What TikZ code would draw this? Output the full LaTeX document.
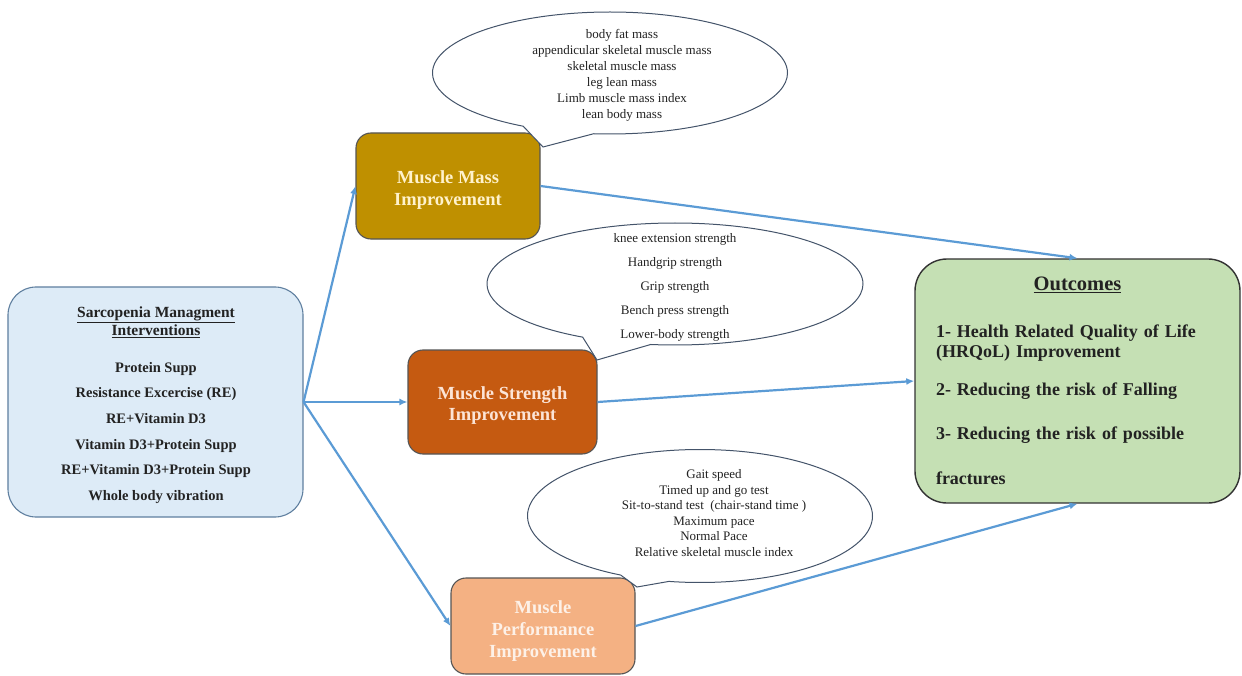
\documentclass[tikz,border=0pt]{standalone}
\usepackage{fontspec}
\setmainfont{Liberation Serif}
\usetikzlibrary{shapes.callouts,arrows.meta}
\definecolor{arrowblue}{HTML}{5B9BD5}
\definecolor{lbfill}{HTML}{DDEBF7}
\definecolor{lbdraw}{HTML}{5F7F9F}
\definecolor{mmfill}{HTML}{BF9000}
\definecolor{msfill}{HTML}{C55A11}
\definecolor{mpfill}{HTML}{F4B183}
\definecolor{ocfill}{HTML}{C5E0B4}
\definecolor{boxdraw}{HTML}{555555}
\definecolor{calloutdraw}{HTML}{44546A}
\definecolor{txtdark}{HTML}{222222}
\definecolor{mmtext}{HTML}{FFF2CC}
\definecolor{mstext}{HTML}{FCE4D6}
\definecolor{mptext}{HTML}{FDF1E8}
\tikzset{
  flowarrow/.style={draw=arrowblue, line width=2.2bp, -{Latex[length=8bp,width=7bp]}},
  groupbox/.style={rounded corners=15bp, draw=boxdraw, line width=1.1bp, inner sep=0pt},
  grouptext/.style={align=center, inner sep=0pt, font=\fontsize{18.5bp}{22bp}\selectfont\bfseries},
  bubble/.style={ellipse callout, draw=calloutdraw, fill=white, line width=1bp, inner sep=0pt},
  bubbletext/.style={align=center, inner sep=0pt, text=txtdark},
}
\begin{document}
\begin{tikzpicture}[x=1bp,y=-1bp]
\useasboundingbox (0,0) rectangle (1242,676);

% left box
\node[rounded corners=28bp, draw=lbdraw, fill=lbfill, line width=1.1bp, inner sep=0pt,
  minimum width=295bp, minimum height=230bp] (lb) at (155.5,402) {};
\node[align=center, inner sep=0pt, text=txtdark,
  font=\fontsize{14.5bp}{18bp}\selectfont\bfseries] (lbt) at (156,405)
  {{\fontsize{15.5bp}{18bp}\selectfont\underline{Sarcopenia Managment}}\\
   {\fontsize{15.5bp}{18bp}\selectfont\underline{Interventions}}\\[19bp]
   Protein Supp\\[7.6bp]
   Resistance Excercise (RE)\\[7.6bp]
   RE+Vitamin D3\\[7.6bp]
   Vitamin D3+Protein Supp\\[7.6bp]
   RE+Vitamin D3+Protein Supp\\[7.6bp]
   Whole body vibration};

% middle boxes
\node[groupbox, fill=mmfill, minimum width=184bp, minimum height=106bp] (mm) at (448,186) {};
\node[grouptext, text=mmtext] (mmt) at (448,190) {Muscle Mass\\Improvement};
\node[groupbox, fill=msfill, minimum width=189bp, minimum height=104bp] (ms) at (502.5,402) {};
\node[grouptext, text=mstext, font=\fontsize{18.5bp}{21bp}\selectfont\bfseries]
  (mst) at (502.5,405.5) {Muscle Strength\\Improvement};
\node[groupbox, fill=mpfill, minimum width=184bp, minimum height=96bp] (mp) at (543,626) {};
\node[grouptext, text=mptext] (mpt) at (543,631) {Muscle\\Performance\\Improvement};

% outcomes
\node[rounded corners=32bp, draw=black!80, fill=ocfill, line width=1.4bp, inner xsep=21bp,
  inner ysep=0pt, minimum width=325bp, minimum height=244bp, text width=283bp, align=left,
  text=txtdark, font=\fontsize{18bp}{20bp}\selectfont\bfseries] (oc) at (1077.5,381)
  {\makebox[\linewidth]{\fontsize{20.5bp}{20bp}\selectfont\underline{Outcomes}}\\[27bp]
   1- Health Related Quality of Life\\
   (HRQoL) Improvement\\[18bp]
   2- Reducing the risk of Falling\\[24bp]
   3- Reducing the risk of possible\\[25bp]
   fractures};

% callouts
\node[bubble, minimum width=355bp, minimum height=122bp, callout absolute pointer={(543,147)},
  callout pointer arc=24] (b1) at (610,73) {};
\node[bubbletext, font=\fontsize{13bp}{16bp}\selectfont] (b1t) at (622,75)
  {body fat mass\\appendicular skeletal muscle mass\\skeletal muscle mass\\leg lean mass\\Limb muscle mass index\\lean body mass};
\node[bubble, minimum width=376bp, minimum height=122bp, callout absolute pointer={(597,360)},
  callout pointer arc=22] (b2) at (675,284) {};
\node[bubbletext, font=\fontsize{13bp}{24bp}\selectfont] (b2t) at (675,287)
  {knee extension strength\\Handgrip strength\\Grip strength\\Bench press strength\\Lower-body strength};
\node[bubble, minimum width=345bp, minimum height=133bp, callout absolute pointer={(637,587)},
  callout pointer arc=17] (b3) at (700,516) {};
\node[bubbletext, font=\fontsize{13bp}{15.6bp}\selectfont] (b3t) at (714,513)
  {Gait speed\\Timed up and go test\\Sit-to-stand test\ \ (chair-stand time )\\Maximum pace\\Normal Pace\\Relative skeletal muscle index};

% arrows
\draw[flowarrow] (lb.east) -- (mm.west);
\draw[flowarrow] (lb.east) -- (ms.west);
\draw[flowarrow] (lb.east) -- (mp.west);
\draw[flowarrow] (mm.east) -- (oc.north);
\draw[flowarrow] (ms.east) -- (oc.west);
\draw[flowarrow] (mp.east) -- (oc.south);
\end{tikzpicture}
\end{document}
